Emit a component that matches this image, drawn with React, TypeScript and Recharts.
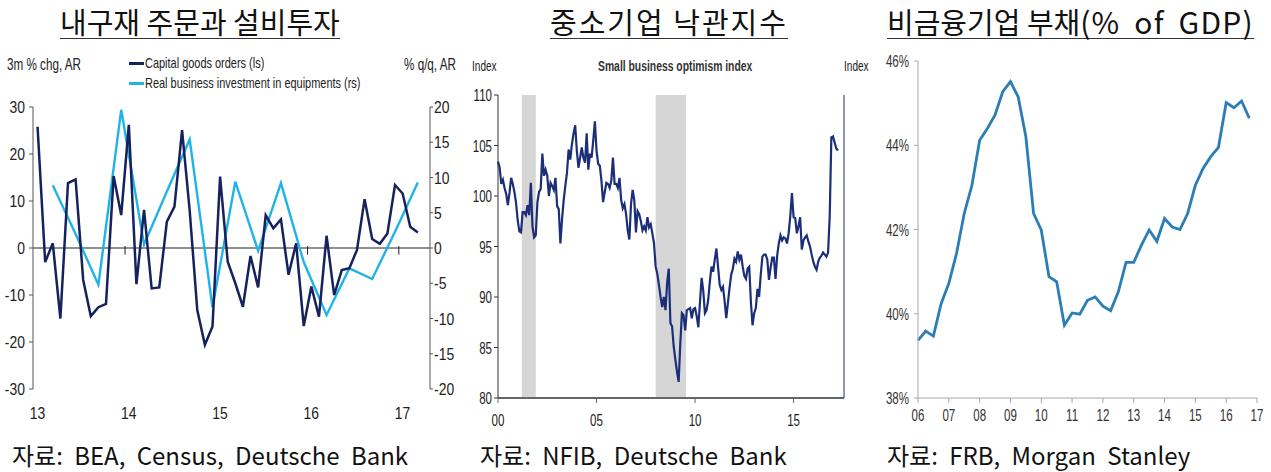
import React from "react";
import { LineChart, Line, XAxis, YAxis, ReferenceLine, ReferenceArea } from "recharts";

const FONT_SANS = "'Liberation Sans', Arial, sans-serif";
const FONT_KR = "'Noto Sans CJK KR', 'Noto Sans', sans-serif";

// panel 1: durable goods orders vs equipment investment (monthly, Jan 2013 - Mar 2017)
const orderYearLabels = ["13", "14", "15", "16", "17"];
const orderYearBreaks = [11.5, 23.5, 35.5, 47.5];
const capitalGoodsOrders = [
  25.8, -3.0, 1.0, -15.0, 13.8, 14.6, -6.8, -14.5, -12.6, -11.9, 15.3, 7.0,
  26.2, -7.7, 8.1, -8.6, -8.4, 5.6, 8.8, 25.1, 8.0, -13.2, -20.6, -16.7,
  15.2, -2.9, -7.5, -12.5, -1.7, -8.4, 7.0, 4.2, 6.1, -5.7, 1.0, -16.6,
  -8.2, -14.6, 2.6, -10.0, -4.7, -4.3, -0.4, 10.4, 1.9, 0.9, 3.1, 13.4,
  11.6, 4.5, 3.3,
];
// quarterly, plotted at the last month of each quarter
const equipmentInvestment = [
  8.9, 2.0, -5.2, 19.6, 0.5, 8.0, 15.4, -8.4, 9.4, -0.4, 9.2, -2.0, -9.5, -2.9, -4.4, 2.3, 9.3,
];

// panel 2: NFIB small business optimism (monthly, Jan 2000 - Apr 2017)
const optimismYearLabels = ["00", "05", "10", "15"];
const optimismIndex = [
  103.4, 102.8, 101.2, 101.6, 100.8, 100.2, 99.1, 100.3, 101.8, 101.2, 100.4, 99.3,
  97.6, 96.5, 96.4, 98.4, 98.4, 98.1, 99.1, 98.1, 101.3, 97.0, 95.9, 96.1,
  99.4, 100.4, 100.7, 104.2, 102.0, 102.6, 102.0, 100.0, 101.3, 101.0, 100.6, 101.8,
  99.0, 98.7, 95.3, 97.7, 99.6, 101.0, 102.3, 104.6, 103.6, 105.1, 106.2, 107.0,
  104.5, 102.8, 103.8, 104.8, 103.8, 103.3, 106.2, 102.6, 104.2, 103.8, 105.5, 107.4,
  104.5, 103.2, 103.0, 101.5, 99.4, 100.4, 101.3, 101.2, 100.8, 101.5, 103.8, 101.2,
  101.2, 100.8, 101.8, 99.6, 98.8, 99.2, 98.2, 96.6, 95.7, 99.2, 100.6, 99.6,
  96.4, 98.5, 98.2, 97.5, 96.6, 97.0, 96.6, 97.9, 96.9, 97.2, 96.3, 95.3,
  93.0, 92.3, 91.2, 90.0, 89.0, 90.0, 88.7, 91.4, 92.8, 87.4, 87.1, 85.1,
  83.8, 82.6, 81.6, 85.4, 88.4, 88.2, 86.7, 88.7, 88.8, 88.9, 87.9, 88.8,
  88.9, 88.1, 87.0, 89.5, 91.9, 90.6, 88.4, 88.7, 89.7, 91.5, 93.0, 92.5,
  93.7, 94.8, 93.0, 91.2, 90.7, 91.0, 89.6, 87.9, 89.4, 90.9, 92.2, 92.8,
  93.8, 93.5, 94.5, 93.7, 94.2, 93.0, 92.1, 91.8, 92.8, 93.0, 89.5, 87.2,
  88.4, 88.9, 90.8, 90.0, 92.2, 94.0, 94.2, 94.2, 93.7, 91.7, 92.9, 93.9,
  93.9, 91.8, 94.1, 95.3, 96.1, 95.6, 95.9, 95.8, 95.3, 96.3, 98.0, 100.3,
  97.9, 97.8, 96.3, 97.0, 97.9, 94.7, 95.6, 95.9, 96.1, 95.5, 95.0, 94.2,
  93.5, 93.0, 92.7, 93.5, 93.9, 94.1, 94.4, 94.2, 94.0, 94.4, 98.0, 105.8,
  105.9, 105.3, 104.7, 104.5,
];
// recession shading, in months from Jan 2000
const recessions = [
  { start: 14.5, end: 23 },
  { start: 96, end: 114.5 },
];

// panel 3: nonfinancial corporate debt, % of GDP (quarterly, 2006Q1 - 2016Q4)
const debtYears = [2006, 2007, 2008, 2009, 2010, 2011, 2012, 2013, 2014, 2015, 2016, 2017];
const corporateDebt = [
  39.37, 39.59, 39.47, 40.24,
  40.72, 41.43, 42.38, 43.05,
  44.12, 44.4, 44.72, 45.27,
  45.51, 45.15, 44.2, 42.38,
  41.99, 40.88, 40.76, 39.73,
  40.02, 39.99, 40.32, 40.4,
  40.18, 40.07, 40.52, 41.22,
  41.22, 41.63, 41.99, 41.72,
  42.26, 42.06, 42.0, 42.38,
  43.05, 43.45, 43.73, 43.95,
  45.01, 44.89, 45.05, 44.64,
];

const ordersData = capitalGoodsOrders.map((v, i) => ({
  m: i,
  orders: v,
  invest: i % 3 === 2 ? equipmentInvestment[(i - 2) / 3] : null,
}));
const optimismData = optimismIndex.map((v, i) => ({ m: i, idx: v }));
const debtData = corporateDebt.map((v, i) => ({ t: 2006 + i * 0.25, debt: v }));

const NAVY = "#16225c";
const CYAN = "#20b4e6";

// condensed tick text: the source uses a narrow face, so squeeze Liberation Sans horizontally
function narrowTick(size: number, sx: number, dy: string, fmt?: (v: number) => string, fill = "#222") {
  return (p: any) => (
    <g transform={`translate(${p.x},${p.y}) scale(${sx},1)`}>
      <text
        x={0}
        y={0}
        dy={dy}
        textAnchor={p.textAnchor}
        fill={fill}
        fontSize={size}
        fontFamily={FONT_SANS}
      >
        {fmt ? fmt(p.payload.value) : p.payload.value}
      </text>
    </g>
  );
}

const abs = (left: number, top: number, extra: React.CSSProperties = {}): React.CSSProperties => ({
  position: "absolute",
  left,
  top,
  whiteSpace: "nowrap",
  ...extra,
});

const titleStyle = (left: number, extra: React.CSSProperties = {}) =>
  abs(left, 4, {
    width: "max-content",
    fontFamily: FONT_KR,
    fontSize: 29,
    lineHeight: "34px",
    color: "#111",
    borderBottom: "1.5px solid #333",
    ...extra,
  });

const sourceStyle = (left: number) =>
  abs(left, 440, {
    width: "max-content",
    fontFamily: FONT_KR,
    fontSize: 24,
    lineHeight: "30px",
    color: "#111",
    wordSpacing: 6,
  });

const narrowText = (
  left: number,
  top: number,
  size: number,
  sx: number,
  extra: React.CSSProperties = {}
): React.CSSProperties =>
  abs(left, top, {
    width: "max-content",
    fontFamily: FONT_SANS,
    fontSize: size,
    lineHeight: "18px",
    color: "#222",
    transform: `scaleX(${sx})`,
    transformOrigin: "left center",
    ...extra,
  });

function OrdersChart() {
  return (
    <LineChart
      width={470}
      height={430}
      data={ordersData}
      margin={{ top: 107, right: 0, bottom: 11, left: 0 }}
    >
      <XAxis
        dataKey="m"
        type="number"
        domain={[-0.6, 51.6]}
        ticks={[0, 12, 24, 36, 48]}
        interval={0}
        axisLine={false}
        tickLine={false}
        tickMargin={12}
        height={30}
        tick={narrowTick(17, 0.82, "0.71em", (v) => orderYearLabels[v / 12])}
      />
      <YAxis
        yAxisId="l"
        domain={[-30, 30]}
        ticks={[-30, -20, -10, 0, 10, 20, 30]}
        interval={0}
        width={33}
        tickSize={4}
        tickMargin={4}
        stroke="#555"
        tick={narrowTick(17, 0.82, "0.355em")}
      />
      <YAxis
        yAxisId="r"
        orientation="right"
        domain={[-20, 20]}
        ticks={[-20, -15, -10, -5, 0, 5, 10, 15, 20]}
        interval={0}
        width={40}
        tickSize={3}
        tickMargin={1}
        stroke="#555"
        tick={narrowTick(17, 0.82, "0.355em")}
      />
      <ReferenceLine yAxisId="l" y={0} stroke="#222" strokeWidth={1.2} />
      {orderYearBreaks.map((x) => (
        <ReferenceLine
          key={x}
          yAxisId="l"
          segment={[
            { x, y: 0.4 },
            { x, y: -1.4 },
          ]}
          stroke="#222"
        />
      ))}
      <Line
        yAxisId="r"
        dataKey="invest"
        stroke={CYAN}
        strokeWidth={2.4}
        dot={false}
        connectNulls
        isAnimationActive={false}
      />
      <Line
        yAxisId="l"
        dataKey="orders"
        stroke={NAVY}
        strokeWidth={2.5}
        dot={false}
        isAnimationActive={false}
      />
    </LineChart>
  );
}

function OptimismChart() {
  return (
    <LineChart
      width={420}
      height={430}
      data={optimismData}
      margin={{ top: 95, right: 0, bottom: 0, left: 0 }}
    >
      <XAxis
        dataKey="m"
        type="number"
        domain={[0, 210.7]}
        ticks={[0, 60, 120, 180]}
        interval={0}
        height={32}
        tickSize={5}
        tickMargin={11}
        stroke="#666"
        axisLine={{ stroke: "#666", strokeWidth: 2 }}
        tick={narrowTick(17, 0.68, "0.71em", (v) => optimismYearLabels[v / 60])}
      />
      <YAxis
        yAxisId="l"
        domain={[80, 110]}
        ticks={[80, 85, 90, 95, 100, 105, 110]}
        interval={0}
        width={38}
        tickSize={4}
        tickMargin={2}
        stroke="#333"
        tick={narrowTick(17, 0.68, "0.355em")}
      />
      <YAxis
        yAxisId="r"
        orientation="right"
        domain={[80, 110]}
        ticks={[80, 85, 90, 95, 100, 105, 110]}
        interval={0}
        width={36}
        tickSize={3}
        tickMargin={2}
        stroke="#1f2d6e"
        tick={narrowTick(17, 0.68, "0.355em")}
      />
      {recessions.map((r) => (
        <ReferenceArea
          key={r.start}
          yAxisId="l"
          x1={r.start}
          x2={r.end}
          y1={80}
          y2={110}
          fill="#d6d6d6"
          fillOpacity={1}
          stroke="none"
        />
      ))}
      <Line
        yAxisId="l"
        dataKey="idx"
        stroke="#1b2f78"
        strokeWidth={2.2}
        dot={false}
        isAnimationActive={false}
      />
    </LineChart>
  );
}

function DebtChart() {
  return (
    <LineChart
      width={400}
      height={430}
      data={debtData}
      margin={{ top: 61, right: 13, bottom: 0, left: 0 }}
    >
      <XAxis
        dataKey="t"
        type="number"
        domain={[2006, 2017]}
        ticks={debtYears}
        interval={0}
        height={32}
        tickSize={5}
        tickMargin={6}
        stroke="#a8a8a8"
        tick={narrowTick(17, 0.68, "0.71em", (v) => String(v).slice(2), "#333")}
      />
      <YAxis
        domain={[38, 46]}
        ticks={[38, 40, 42, 44, 46]}
        interval={0}
        width={48}
        tickSize={4}
        tickMargin={5}
        stroke="#a8a8a8"
        tick={narrowTick(17, 0.68, "0.355em", (v) => `${v}%`, "#333")}
      />
      <Line
        dataKey="debt"
        stroke="#2a7db5"
        strokeWidth={2.8}
        dot={false}
        isAnimationActive={false}
      />
    </LineChart>
  );
}

export default function App() {
  return (
    <div
      style={{
        position: "absolute",
        left: 0,
        top: 0,
        width: 1271,
        height: 472,
        overflow: "hidden",
        background: "#fff",
      }}
    >
      <div style={titleStyle(60)}>내구재 주문과 설비투자</div>
      <div style={titleStyle(550, { letterSpacing: 2 })}>중소기업 낙관지수</div>
      <div style={titleStyle(887)}>
        비금융기업 부채
        <span style={{ fontSize: 30, letterSpacing: 1.2, wordSpacing: 6 }}>(% of GDP)</span>
      </div>

      <div style={abs(0, 0)}>
        <OrdersChart />
      </div>
      <div style={abs(460, 0)}>
        <OptimismChart />
      </div>
      <div style={abs(870, 0)}>
        <DebtChart />
      </div>

      {/* panel 1 header and legend */}
      <div style={narrowText(7, 56, 16, 0.73)}>3m % chg, AR</div>
      <div style={narrowText(404, 56, 16, 0.73)}>% q/q, AR</div>
      <div style={abs(129, 62, { width: 15, height: 3, background: NAVY })} />
      <div style={narrowText(145, 54, 15, 0.73)}>Capital goods orders (ls)</div>
      <div style={abs(129, 82, { width: 15, height: 3, background: CYAN })} />
      <div style={narrowText(145, 74, 15, 0.73)}>Real business investment in equipments (rs)</div>

      {/* panel 2 header */}
      <div style={narrowText(472, 57, 14, 0.72)}>Index</div>
      <div style={narrowText(598, 57, 14, 0.74, { fontWeight: "bold", color: "#333" })}>
        Small business optimism index
      </div>
      <div style={narrowText(844, 57, 14, 0.72)}>Index</div>

      <div style={sourceStyle(12)}>자료: BEA, Census, Deutsche Bank</div>
      <div style={sourceStyle(480)}>자료: NFIB, Deutsche Bank</div>
      <div style={sourceStyle(887)}>자료: FRB, Morgan Stanley</div>
    </div>
  );
}
